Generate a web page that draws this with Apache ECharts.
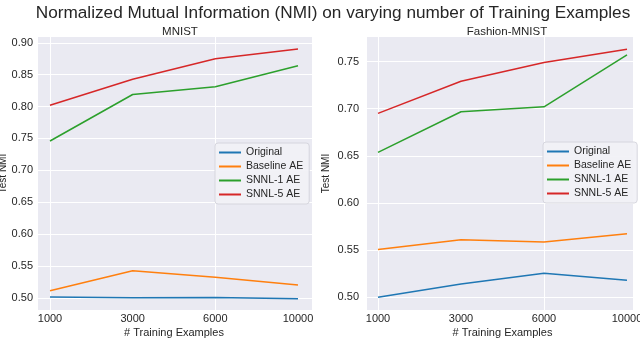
<!DOCTYPE html>
<html>
<head>
<meta charset="utf-8">
<script src="https://cdn.jsdelivr.net/npm/echarts@6/dist/echarts.min.js"></script>
<style>
  html, body { margin: 0; padding: 0; background: #fff; }
  #main { width: 640px; height: 338px; }
</style>
</head>
<body>
<div id="main"></div>
<script>
// x categories (equally spaced in the figure)
const categories = ['1000', '3000', '6000', '10000'];
const seriesNames = ['Original', 'Baseline AE', 'SNNL-1 AE', 'SNNL-5 AE'];
const colors = ['#1f77b4', '#ff7f0e', '#2ca02c', '#d62728'];

// MNIST
const mnistOriginal = [0.501, 0.500, 0.5005, 0.4985];
const mnistBaseline = [0.511, 0.5425, 0.532, 0.520];
const mnistSnnl1 = [0.746, 0.819, 0.831, 0.864];
const mnistSnnl5 = [0.802, 0.843, 0.875, 0.8905];

// Fashion-MNIST
const fashionOriginal = [0.500, 0.514, 0.5255, 0.518];
const fashionBaseline = [0.5507, 0.561, 0.5586, 0.5675];
const fashionSnnl1 = [0.6536, 0.6967, 0.702, 0.757];
const fashionSnnl5 = [0.695, 0.729, 0.749, 0.763];

const font = 'Liberation Sans, Arial, sans-serif';
const textColor = '#262626';

var myChart = echarts.init(document.getElementById('main'));

function plot(idx, outer, inner, yMin, yMax, splitNumber, labelMargin, nameGap) {
  // outer grid: background + horizontal grid lines, inner grid: data
  const g = idx * 2;
  return {
    grids: [
      Object.assign({ show: true, backgroundColor: '#eaeaf2', borderWidth: 0, outerBoundsMode: 'none' }, outer),
      Object.assign({ outerBoundsMode: 'none' }, inner)
    ],
    xAxis: [
      { gridIndex: g, type: 'value', show: false },
      {
        gridIndex: g + 1, type: 'category', data: categories, boundaryGap: false,
        axisLine: { show: false }, axisTick: { show: false },
        axisLabel: { color: textColor, fontSize: 11, fontFamily: font, margin: 3 },
        splitLine: { show: true, interval: (i) => i === 0 || i === 2, lineStyle: { color: '#fff', width: 1 } },
        name: '# Training Examples', nameLocation: 'middle', nameGap: 17, nameMoveOverlap: false,
        nameTextStyle: { color: textColor, fontSize: 11, fontFamily: font, verticalAlign: 'top' }
      }
    ],
    yAxis: [
      {
        gridIndex: g, type: 'value', min: yMin, max: yMax, splitNumber: splitNumber,
        axisLine: { show: false }, axisTick: { show: false },
        axisLabel: {
          color: textColor, fontSize: 11, fontFamily: font, margin: labelMargin,
          showMinLabel: false, showMaxLabel: false,
          formatter: (v) => v.toFixed(2)
        },
        splitLine: { lineStyle: { color: '#fff', width: 1 } },
        name: 'Test NMI', nameLocation: 'middle', nameGap: nameGap, nameMoveOverlap: false,
        nameTextStyle: { color: textColor, fontSize: 10, fontFamily: font }
      },
      { gridIndex: g + 1, type: 'value', min: yMin, max: yMax, show: false, splitLine: { show: false } }
    ]
  };
}

const p1 = plot(0, { left: 38, right: 328, top: 36.5, bottom: 27.5 }, { left: 50, right: 342, top: 36.5, bottom: 27.5 },
  0.48, 0.910, 9, 5, 30);
const p2 = plot(1, { left: 367, right: 7, top: 36.5, bottom: 27.5 }, { left: 378, right: 13, top: 36.5, bottom: 27.5 },
  0.486, 0.7765, 6, 8, 36);

function lines(xIdx, data) {
  return data.map((d, i) => ({
    name: seriesNames[i], type: 'line', xAxisIndex: xIdx, yAxisIndex: xIdx,
    data: d, symbol: 'none', clip: false,
    lineStyle: { color: colors[i], width: 1.5 }, itemStyle: { color: colors[i] }
  }));
}

function legend(left, top) {
  return {
    data: seriesNames, orient: 'vertical', left: left, top: top,
    icon: 'rect', itemWidth: 22, itemHeight: 2, itemGap: 3, itemTextGap: 8,
    padding: [4, 6, 4, 4],
    backgroundColor: 'rgba(241,241,246,0.92)', borderColor: '#d6d6de', borderWidth: 1, borderRadius: 3,
    selectedMode: false,
    textStyle: { color: textColor, fontSize: 10.5, fontFamily: font }
  };
}

const option = {
  animation: false,
  title: [
    { text: 'Normalized Mutual Information (NMI) on varying number of Training Examples', left: 328, top: 0, textAlign: 'center',
      textStyle: { color: textColor, fontSize: 17.2, fontWeight: 'normal', fontFamily: font } },
    { text: 'MNIST', left: 175, top: 21, textAlign: 'center',
      textStyle: { color: textColor, fontSize: 11.5, fontWeight: 'normal', fontFamily: font } },
    { text: 'Fashion-MNIST', left: 502, top: 21, textAlign: 'center',
      textStyle: { color: textColor, fontSize: 11.5, fontWeight: 'normal', fontFamily: font } }
  ],
  legend: [legend(215, 143), legend(543, 142)],
  grid: p1.grids.concat(p2.grids),
  xAxis: p1.xAxis.concat(p2.xAxis),
  yAxis: p1.yAxis.concat(p2.yAxis),
  series: lines(1, [mnistOriginal, mnistBaseline, mnistSnnl1, mnistSnnl5])
    .concat(lines(3, [fashionOriginal, fashionBaseline, fashionSnnl1, fashionSnnl5]))
};
myChart.setOption(option);
</script>
</body>
</html>
